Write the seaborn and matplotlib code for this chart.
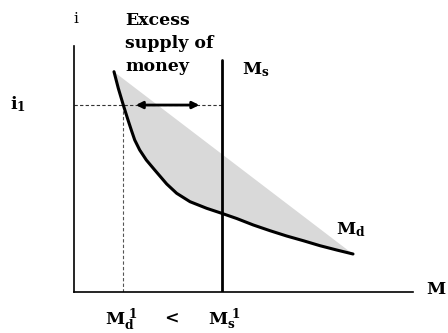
import numpy as np
import seaborn as sns
import matplotlib
matplotlib.use("Agg")
import matplotlib.pyplot as plt

# money demand curve (axis units 0-100)
md_m = [11.80, 13.07, 14.54, 15.93, 16.90, 17.91, 19.38, 21.33, 23.81, 27.35, 30.29,
        34.22, 39.14, 43.57, 47.99, 52.89, 57.82, 62.74, 67.64, 72.57, 77.49, 82.30]
md_i = [89.55, 82.80, 76.02, 69.92, 65.85, 61.79, 57.72, 53.66, 49.59, 43.90, 40.12,
        36.71, 34.02, 31.99, 29.88, 27.24, 24.92, 22.76, 20.85, 18.82, 17.07, 15.45]

ms_level = 43.6      # money supply
ms_top = 94.3
i1 = 76.0            # interest rate i1
md1 = 14.5           # money demanded at i1
arrow_x = [17.4, 37.8]

sns.set_style("white")
plt.rcParams["font.family"] = ["DejaVu Serif"]
plt.rcParams["mathtext.fontset"] = "dejavuserif"
plt.rcParams["text.color"] = "black"

fig = plt.figure(figsize=(4.48, 3.33), dpi=100)
ax = fig.add_axes([74 / 448, 41 / 333, 339 / 448, 246 / 333])
ax.set_xlim(0, 100)
ax.set_ylim(0, 100)

# shaded area between the demand curve and the straight chord
x = np.array(md_m)
chord = np.interp(x, [md_m[0], md_m[-1]], [md_i[0], md_i[-1]])
ax.fill_between(x, md_i, chord, color="#d9d9d9", lw=0)

# guide lines
ax.plot([0, ms_level], [i1, i1], ls=(0, (3, 2)), color="#333333", lw=0.8)
ax.plot([md1, md1], [0, i1], ls=(0, (3, 2)), color="#555555", lw=0.8)

# money supply and demand
ax.plot([ms_level, ms_level], [0, ms_top], color="black", lw=2)
sns.lineplot(x=md_m, y=md_i, sort=False, color="black", lw=2.2, ax=ax)

ax.annotate("", xy=(arrow_x[0], i1), xytext=(arrow_x[1], i1),
            arrowprops=dict(arrowstyle="<|-|>", color="black", lw=2,
                            mutation_scale=10))

for s in ["top", "right"]:
    ax.spines[s].set_visible(False)
for s in ["left", "bottom"]:
    ax.spines[s].set_color("black")
    ax.spines[s].set_linewidth(1.2)
ax.set_xticks([])
ax.set_yticks([])


def ftext(px, py, s, **kw):
    kw.setdefault("fontsize", 12.5)
    kw.setdefault("fontweight", "bold")
    fig.text(px / 448, 1 - py / 333, s, **kw)


ftext(76, 19, "i", ha="center", va="center", fontweight="normal", fontsize=11)
ftext(10, 104, r"$\mathbf{i_1}$", ha="left", va="center")
ftext(125, 12, "Excess\nsupply of\nmoney", ha="left", va="top", linespacing=1.45,
      fontsize=12.5)
ftext(242, 70, r"$\mathbf{M_s}$", ha="left", va="center")
ftext(336, 230, r"$\mathbf{M_d}$", ha="left", va="center")
ftext(426, 290, "M", ha="left", va="center")
ftext(105, 320, r"$\mathbf{M_d^{\ 1}}$", ha="left", va="center")
ftext(171, 318, "<", ha="center", va="center")
ftext(208, 320, r"$\mathbf{M_s^{\ 1}}$", ha="left", va="center")

fig.savefig("out.png", dpi=100)
